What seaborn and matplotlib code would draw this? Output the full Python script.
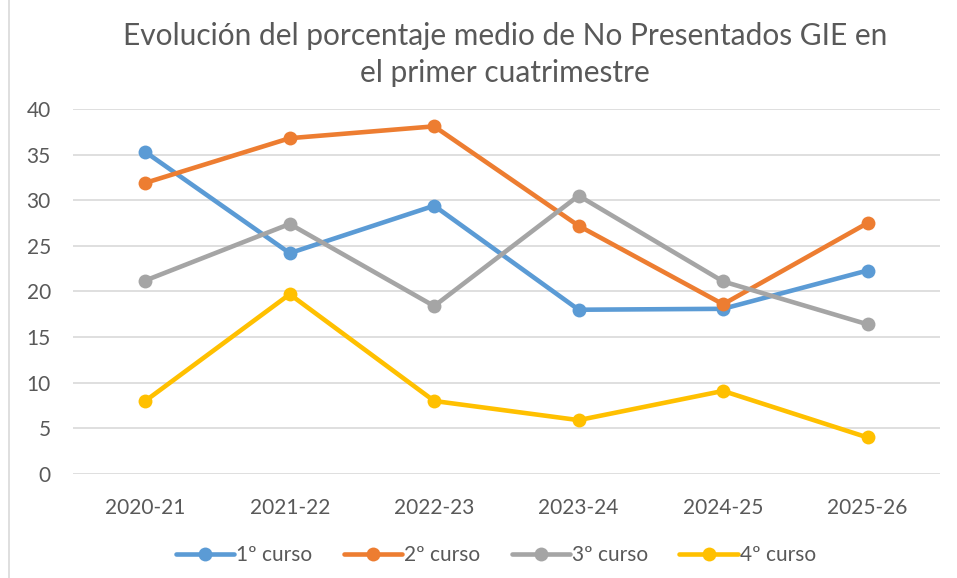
import matplotlib
matplotlib.use('Agg')
import matplotlib.pyplot as plt
import pandas as pd
import seaborn as sns
from matplotlib.patches import Rectangle

# datos
cursos = ['2020-21', '2021-22', '2022-23', '2023-24', '2024-25', '2025-26']
series = ['1º curso', '2º curso', '3º curso', '4º curso']
primero = [35.3, 24.2, 29.4, 18.0, 18.1, 22.3]
segundo = [31.9, 36.8, 38.1, 27.2, 18.6, 27.5]
tercero = [21.2, 27.4, 18.4, 30.5, 21.1, 16.4]
cuarto = [8.0, 19.7, 8.0, 5.9, 9.1, 4.0]
colores = ['#5B9BD5', '#ED7D31', '#A5A5A5', '#FFC000']

filas = []
for nombre, valores in zip(series, [primero, segundo, tercero, cuarto]):
    for curso, v in zip(cursos, valores):
        filas.append({'Curso': curso, 'Serie': nombre, 'Valor': v})
df = pd.DataFrame(filas)

sns.set_theme(style='white')
plt.rcParams['font.family'] = ['Lato', 'DejaVu Sans']
texto = '#595959'

fig = plt.figure(figsize=(9.57, 5.78), dpi=100)
ax = fig.add_axes([0.0763, 0.180, 0.9057, 0.6314])

sns.lineplot(data=df, x='Curso', y='Valor', hue='Serie', palette=colores,
             marker='o', markersize=10, markeredgewidth=0, linewidth=3.3,
             sort=False, ax=ax)

ax.set_ylim(0, 40)
ax.set_xlim(-0.5, 5.5)
ax.set_yticks(range(0, 41, 5))
ax.grid(axis='y', color='#d9d9d9', linewidth=1.2)
ax.set_axisbelow(True)
for s in ax.spines.values():
    s.set_visible(False)
ax.tick_params(axis='both', length=0, labelsize=15, colors=texto)
ax.tick_params(axis='x', pad=17)
ax.tick_params(axis='y', pad=16)
ax.set_xlabel('')
ax.set_ylabel('')

leg = ax.legend(loc='upper center', bbox_to_anchor=(0.488, -0.143), ncol=4,
                frameon=False, fontsize=15, handlelength=2.8,
                handletextpad=0.1, columnspacing=1.5)
for t in leg.get_texts():
    t.set_color(texto)

fig.text(0.528, 0.962, 'Evolución del porcentaje medio de No Presentados GIE en\nel primer cuatrimestre',
         ha='center', va='top', fontsize=21.5, color=texto, linespacing=1.38)

# borde del area del grafico
fig.patches.append(Rectangle((0.009, -0.01), 1.0, 1.02, transform=fig.transFigure,
                             fill=False, edgecolor='#d9d9d9', linewidth=1.2))

fig.savefig('out.png', dpi=100)
